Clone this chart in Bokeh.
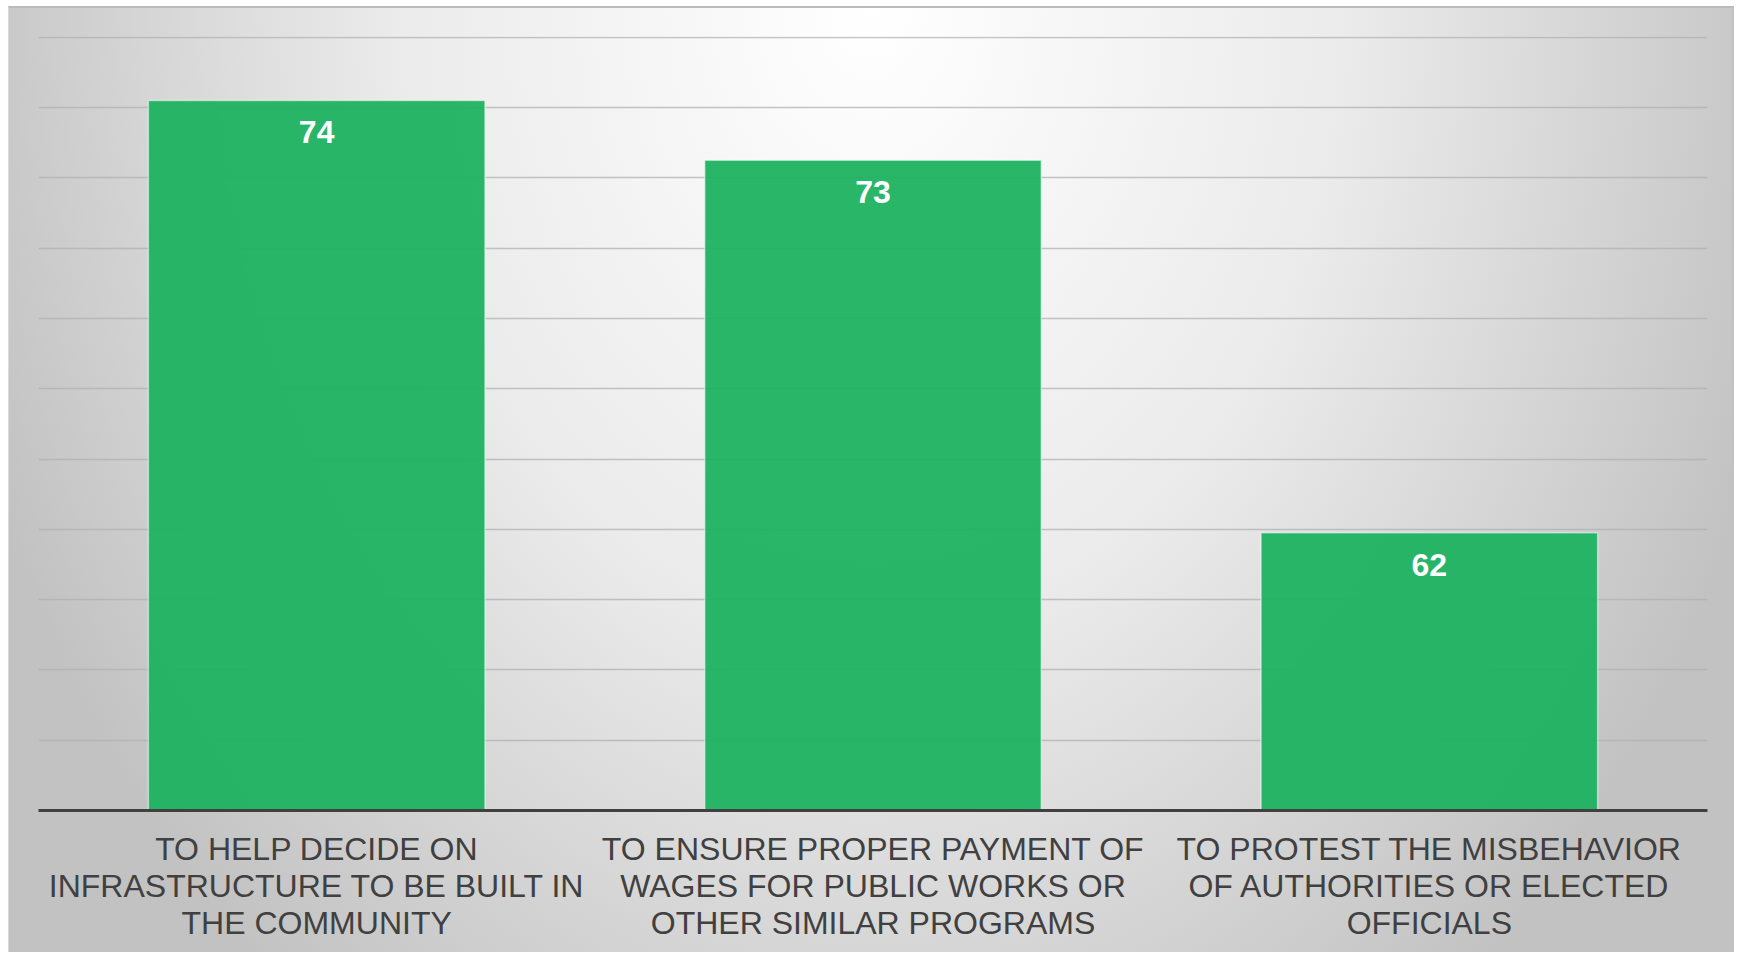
from bokeh.plotting import figure
from bokeh.models import ColumnDataSource, Range1d, FactorRange, FixedTicker
from bokeh.core.properties import value
from bokeh.embed import file_html
from bokeh.resources import INLINE

# ---- data ----
categories = [
    "TO HELP DECIDE ON\nINFRASTRUCTURE TO BE BUILT IN\nTHE COMMUNITY",
    "TO ENSURE PROPER PAYMENT OF\nWAGES FOR PUBLIC WORKS OR\nOTHER SIMILAR PROGRAMS",
    "TO PROTEST THE MISBEHAVIOR\nOF AUTHORITIES OR ELECTED\nOFFICIALS",
]
values = [74.2, 72.5, 61.9]
value_labels = ["74", "73", "62"]
y_min, y_max, y_step = 54, 76, 2

src = ColumnDataSource(dict(cat=categories, val=values, lab=value_labels))

p = figure(
    width=1726, height=946,
    x_range=FactorRange(*categories, range_padding=0),
    y_range=Range1d(y_min, y_max + 0.02),
    output_backend="svg", toolbar_location=None,
    min_border_left=29, min_border_right=28, min_border_top=28, min_border_bottom=144,
)
p.styles = {
    "margin-left": "8px",
    "margin-top": "6px",
    "background": "radial-gradient(ellipse 950px 1250px at 50% 0%, #ffffff 0%, #ebebeb 50%, #c2c2c2 100%)",
    "border-top": "2px solid #bcbcbc",
    "border-right": "2px solid #c2c2c2",
    "border-left": "1px solid #dadada",
}
p.background_fill_alpha = 0
p.border_fill_alpha = 0
p.outline_line_color = None

p.vbar(x="cat", top="val", bottom=y_min, width=0.605, source=src,
       fill_color="#1db260", fill_alpha=0.95, line_color="white", line_alpha=0.5, line_width=1.5)
p.text(x="cat", y="val", text="lab", source=src, text_align="center", text_baseline="middle",
       y_offset=32, text_color="white", text_font=value("Liberation Sans"),
       text_font_size="32px", text_font_style="bold")

p.yaxis.visible = False
p.ygrid.ticker = FixedTicker(ticks=list(range(y_min + y_step, y_max + 1, y_step)))
p.ygrid.grid_line_color = "#b0b0b0"
p.ygrid.grid_line_alpha = 0.75
p.ygrid.grid_line_width = 1.5
p.xgrid.grid_line_color = None

ax = p.xaxis[0]
ax.axis_line_color = "#404040"
ax.axis_line_width = 3
ax.major_tick_line_color = None
ax.minor_tick_line_color = None
ax.major_tick_out = 0
ax.major_tick_in = 0
ax.major_label_standoff = 20
ax.major_label_text_font = "Liberation Sans"
ax.major_label_text_font_size = "32px"
ax.major_label_text_color = "#404040"
ax.major_label_text_line_height = 1.03

open("out.html", "w").write(file_html(p, INLINE))
